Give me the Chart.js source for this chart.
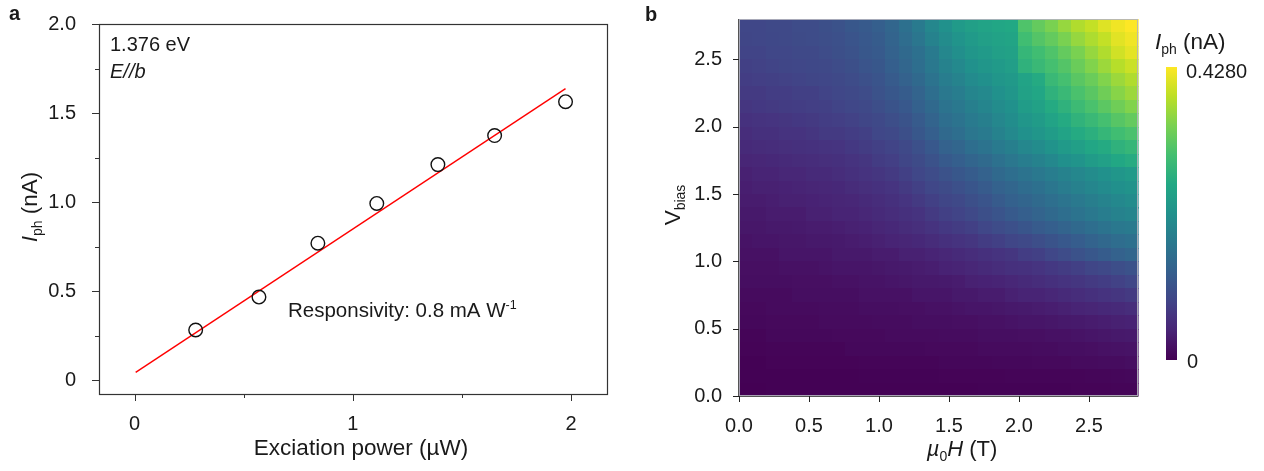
<!DOCTYPE html>
<html>
<head>
<meta charset="utf-8">
<script src="https://cdn.jsdelivr.net/npm/chart.js@4.4.1/dist/chart.umd.min.js"></script>
<style>
    html, body { margin: 0; padding: 0; background: #fff; }
    #wrap { position: relative; width: 1264px; height: 471px; overflow: hidden; }
    canvas { position: absolute; top: 0; }
    #powerChart { left: 0; }
    #mapChart { left: 640px; }
</style>
</head>
<body>
<div id="wrap">
    <canvas id="powerChart" width="640" height="471"></canvas>
    <canvas id="mapChart" width="624" height="471"></canvas>
</div>
<script>
'use strict';

// --- Panel a: photocurrent vs excitation power ---
const powerUW = [0.28, 0.57, 0.84, 1.11, 1.39, 1.65, 1.975];
const iphNA = [0.283, 0.468, 0.770, 0.993, 1.211, 1.374, 1.564];
const fitPowerUW = [0.005, 1.975];
const fitIphNA = [0.045, 1.637];
const powerTicks = [0, 1, 2];
const powerMinorTicks = [0.5, 1.5];
const iphTicks = [0, 0.5, 1.0, 1.5, 2.0];
const iphMinorTicks = [0.25, 0.75, 1.25, 1.75];

// --- Panel b: photocurrent map (field x bias), values in pA ---
const fieldT = [0.0475, 0.1425, 0.2375, 0.3325, 0.4275, 0.5225, 0.6175, 0.7125, 0.8075, 0.9025,
    0.9975, 1.0925, 1.1875, 1.2825, 1.3775, 1.4725, 1.5675, 1.6625, 1.7575, 1.8525,
    1.9475, 2.0425, 2.1375, 2.2325, 2.3275, 2.4225, 2.5175, 2.6125, 2.7075, 2.8025];
// rows listed from top (2.75 V) to bottom (0.05 V)
const biasV = [2.75, 2.65, 2.55, 2.45, 2.35, 2.25, 2.15, 2.05, 1.95, 1.85, 1.75, 1.65, 1.55, 1.45,
    1.35, 1.25, 1.15, 1.05, 0.95, 0.85, 0.75, 0.65, 0.55, 0.45, 0.35, 0.25, 0.15, 0.05];
const iphMapPA = [
    [90, 90, 94, 94, 98, 98, 103, 107, 116, 120, 128, 141, 158, 175, 197, 214, 231, 240, 248, 253, 257, 308, 325, 342, 360, 377, 389, 407, 419, 428],
    [88, 90, 92, 94, 96, 98, 101, 105, 111, 118, 124, 137, 152, 167, 188, 205, 220, 231, 240, 246, 250, 295, 312, 325, 342, 360, 375, 389, 409, 419],
    [86, 86, 90, 90, 94, 94, 98, 103, 107, 116, 120, 133, 146, 158, 175, 197, 210, 223, 231, 240, 244, 282, 295, 308, 325, 342, 360, 377, 398, 411],
    [81, 83, 86, 88, 90, 92, 94, 98, 103, 111, 116, 128, 141, 154, 171, 188, 201, 214, 223, 231, 238, 274, 287, 300, 312, 330, 347, 364, 381, 394],
    [77, 79, 81, 83, 86, 88, 90, 94, 98, 105, 111, 122, 133, 146, 163, 180, 190, 203, 212, 223, 229, 248, 261, 287, 300, 317, 330, 347, 364, 377],
    [73, 73, 77, 77, 81, 81, 86, 90, 94, 98, 107, 116, 124, 137, 154, 171, 180, 193, 201, 214, 223, 244, 253, 274, 287, 304, 317, 334, 351, 364],
    [68, 71, 73, 75, 77, 79, 81, 86, 90, 94, 101, 109, 118, 131, 146, 163, 171, 184, 193, 205, 214, 235, 244, 261, 274, 291, 304, 319, 334, 347],
    [62, 64, 66, 68, 71, 73, 77, 79, 83, 88, 94, 101, 109, 122, 137, 154, 163, 175, 184, 197, 208, 223, 233, 248, 261, 276, 287, 300, 315, 325],
    [56, 60, 60, 64, 64, 68, 73, 73, 77, 81, 90, 94, 103, 116, 128, 146, 154, 167, 175, 188, 201, 214, 223, 235, 248, 261, 270, 282, 295, 304],
    [51, 54, 56, 58, 60, 62, 64, 66, 71, 75, 81, 86, 94, 105, 118, 133, 141, 154, 163, 175, 184, 197, 205, 218, 231, 240, 253, 261, 274, 282],
    [45, 47, 49, 51, 54, 56, 58, 60, 64, 68, 75, 79, 88, 96, 107, 120, 128, 139, 148, 160, 169, 180, 188, 199, 212, 220, 233, 242, 255, 263],
    [39, 43, 43, 47, 47, 51, 51, 56, 60, 64, 68, 73, 81, 90, 98, 107, 116, 124, 133, 146, 154, 163, 171, 180, 188, 197, 205, 214, 223, 231],
    [36, 39, 39, 41, 43, 45, 47, 49, 54, 58, 62, 66, 73, 81, 90, 96, 105, 113, 122, 133, 141, 150, 158, 167, 178, 186, 195, 203, 212, 218],
    [34, 34, 36, 39, 39, 41, 43, 45, 47, 51, 56, 60, 66, 73, 81, 88, 94, 103, 111, 122, 131, 139, 148, 156, 165, 173, 182, 190, 199, 205],
    [30, 30, 34, 34, 34, 39, 39, 43, 43, 47, 51, 56, 60, 64, 73, 81, 86, 94, 103, 111, 120, 128, 137, 146, 154, 163, 171, 180, 188, 193],
    [28, 28, 30, 30, 32, 34, 34, 36, 39, 41, 45, 49, 54, 58, 64, 71, 75, 81, 90, 98, 105, 113, 122, 128, 137, 146, 154, 163, 171, 175],
    [24, 26, 26, 28, 28, 30, 30, 32, 34, 36, 39, 43, 45, 49, 54, 60, 64, 68, 75, 81, 88, 94, 101, 109, 118, 126, 135, 143, 152, 158],
    [21, 21, 21, 26, 26, 26, 26, 30, 30, 30, 34, 34, 39, 39, 43, 47, 51, 56, 60, 64, 68, 77, 81, 90, 98, 107, 116, 124, 133, 141],
    [19, 19, 19, 21, 21, 21, 24, 26, 26, 26, 28, 30, 32, 34, 36, 41, 43, 47, 51, 56, 60, 62, 66, 71, 76, 81, 88, 94, 101, 107],
    [17, 17, 17, 17, 19, 19, 19, 21, 21, 24, 24, 26, 28, 30, 30, 32, 34, 39, 41, 43, 47, 51, 56, 60, 64, 68, 73, 77, 83, 90],
    [13, 13, 13, 13, 17, 17, 17, 17, 17, 21, 21, 21, 21, 26, 26, 26, 30, 30, 34, 34, 39, 43, 43, 47, 51, 56, 60, 64, 68, 73],
    [11, 11, 13, 13, 13, 13, 15, 15, 15, 17, 17, 17, 19, 19, 21, 21, 24, 26, 26, 28, 30, 32, 34, 36, 39, 43, 45, 49, 51, 56],
    [9, 9, 11, 11, 11, 11, 13, 13, 13, 13, 15, 15, 15, 17, 17, 17, 19, 19, 21, 21, 24, 26, 26, 28, 30, 32, 34, 36, 39, 41],
    [6, 6, 9, 9, 9, 9, 9, 11, 11, 11, 11, 13, 13, 13, 13, 15, 15, 15, 17, 17, 17, 19, 19, 21, 21, 24, 26, 28, 30, 32],
    [4, 4, 6, 6, 6, 6, 6, 6, 9, 9, 9, 9, 9, 9, 11, 11, 11, 11, 13, 13, 13, 13, 15, 15, 17, 17, 19, 21, 23, 24],
    [2, 2, 4, 4, 4, 4, 4, 4, 4, 6, 6, 6, 6, 6, 6, 8, 8, 8, 8, 9, 9, 9, 11, 11, 11, 13, 13, 15, 15, 17],
    [1, 1, 2, 2, 2, 2, 2, 2, 2, 3, 3, 3, 3, 3, 3, 4, 4, 4, 4, 4, 5, 5, 5, 6, 6, 6, 7, 7, 8, 9],
    [0, 0, 1, 1, 1, 1, 1, 1, 1, 2, 2, 2, 2, 2, 2, 2, 2, 2, 3, 3, 3, 3, 3, 3, 3, 4, 4, 4, 5, 5]
];
const iphMaxNA = 0.428;
const fieldTicks = [0, 0.5, 1.0, 1.5, 2.0, 2.5];
const biasTicks = [0, 0.5, 1.0, 1.5, 2.0, 2.5];

// --- shared style bits ---
const FONT = '"Liberation Sans", Arial, Helvetica, sans-serif';
const INK = '#1a1a1a';
const VIRIDIS = [
    [0.00, [68, 1, 84]], [0.05, [71, 17, 100]], [0.10, [72, 36, 117]], [0.15, [70, 51, 127]],
    [0.20, [65, 68, 135]], [0.30, [53, 95, 141]], [0.40, [42, 120, 142]], [0.50, [33, 145, 140]],
    [0.60, [34, 168, 132]], [0.70, [68, 191, 112]], [0.80, [122, 209, 81]], [0.90, [189, 223, 38]],
    [1.00, [253, 231, 37]]
];

Chart.defaults.font.family = FONT;
Chart.defaults.font.size = 20;
Chart.defaults.color = INK;

function viridis(t) {
    t = Math.max(0, Math.min(1, t));
    for (let i = 1; i < VIRIDIS.length; i++) {
        const [t1, c1] = VIRIDIS[i];
        if (t <= t1) {
            const [t0, c0] = VIRIDIS[i - 1];
            const f = (t - t0) / (t1 - t0);
            const c = c0.map((v, k) => Math.round(v + (c1[k] - v) * f));
            return `rgb(${c[0]},${c[1]},${c[2]})`;
        }
    }
    return 'rgb(253,231,37)';
}

// draws a run of text pieces (italic / sub / sup) starting from x, or centred on x
function drawRich(ctx, x, y, parts, align) {
    const fontOf = p => `${p.italic ? 'italic ' : ''}${p.bold ? 'bold ' : ''}${p.size}px ${FONT}`;
    let total = 0;
    parts.forEach(p => { ctx.font = fontOf(p); total += ctx.measureText(p.t).width; });
    let cx = align === 'center' ? x - total / 2 : x;
    ctx.textBaseline = 'alphabetic';
    ctx.textAlign = 'left';
    parts.forEach(p => {
        ctx.font = fontOf(p);
        ctx.fillText(p.t, cx, y + (p.dy || 0));
        cx += ctx.measureText(p.t).width;
    });
}

function drawTicks(ctx, scale, values, len) {
    const area = scale.chart.chartArea;
    ctx.beginPath();
    values.forEach(v => {
        const p = Math.round(scale.getPixelForValue(v)) + 0.5;
        if (scale.isHorizontal()) {
            ctx.moveTo(p, area.bottom);
            ctx.lineTo(p, area.bottom + len);
        } else {
            ctx.moveTo(area.left, p);
            ctx.lineTo(area.left - len, p);
        }
    });
    ctx.stroke();
}

const fixedTicks = list => scale => { scale.ticks = list.map(v => ({ value: v })); };
// pin the scale boxes so the plot area lands where the figure has it
const fitX = h => s => { s.height = h; s.paddingLeft = 0; s.paddingRight = 0; };
const fitY = w => s => { s.width = w; s.paddingTop = 0; s.paddingBottom = 0; };

// --- Panel a ---
const panelAPlugin = {
    id: 'panelA',
    afterDraw(chart) {
        const { ctx, chartArea: a, scales } = chart;
        ctx.save();
        ctx.strokeStyle = '#333';
        ctx.lineWidth = 1.2;
        ctx.strokeRect(Math.round(a.left) + 0.5, Math.round(a.top) + 0.5,
            Math.round(a.right - a.left), Math.round(a.bottom - a.top));
        ctx.lineWidth = 1;
        drawTicks(ctx, scales.x, powerTicks, 7);
        drawTicks(ctx, scales.x, powerMinorTicks, 4);
        drawTicks(ctx, scales.y, iphTicks, 7);
        drawTicks(ctx, scales.y, iphMinorTicks, 4);

        ctx.fillStyle = INK;
        drawRich(ctx, 9, 20, [{ t: 'a', size: 20, bold: true }]);
        drawRich(ctx, 110, 51, [{ t: '1.376 eV', size: 20 }]);
        drawRich(ctx, 110, 78, [{ t: 'E//b', size: 20, italic: true }]);
        drawRich(ctx, 288, 317, [
            { t: 'Responsivity: 0.8 mA W', size: 20.5 },
            { t: '-1', size: 12.5, dy: -8 }
        ]);
        drawRich(ctx, 361, 455, [{ t: 'Exciation power (\u00b5W)', size: 22.5 }], 'center');

        ctx.translate(37, 207);
        ctx.rotate(-Math.PI / 2);
        drawRich(ctx, 0, 0, [
            { t: 'I', size: 22.5, italic: true },
            { t: 'ph', size: 14, dy: 5 },
            { t: ' (nA)', size: 22.5 }
        ], 'center');
        ctx.restore();
    }
};

new Chart(document.getElementById('powerChart'), {
    type: 'scatter',
    data: {
        datasets: [
            {
                type: 'line',
                data: fitPowerUW.map((x, i) => ({ x, y: fitIphNA[i] })),
                borderColor: '#ff0000',
                borderWidth: 1.4,
                pointRadius: 0,
                order: 2
            },
            {
                data: powerUW.map((x, i) => ({ x, y: iphNA[i] })),
                pointStyle: 'circle',
                pointRadius: 6.8,
                borderWidth: 1.4,
                borderColor: '#111',
                backgroundColor: 'rgba(0,0,0,0)',
                order: 1
            }
        ]
    },
    options: {
        responsive: false,
        animation: false,
        events: [],
        layout: { padding: { left: 0, top: 24, right: 33, bottom: 0 } },
        plugins: { legend: { display: false }, tooltip: { enabled: false } },
        scales: {
            x: {
                type: 'linear', min: -0.163, max: 2.165,
                afterBuildTicks: fixedTicks(powerTicks),
                afterFit: fitX(77),
                grid: { display: false },
                border: { display: false },
                ticks: { padding: 10, callback: v => String(v) }
            },
            y: {
                type: 'linear', min: -0.076, max: 2.0,
                afterBuildTicks: fixedTicks(iphTicks),
                afterFit: fitY(99),
                grid: { display: false },
                border: { display: false },
                ticks: { padding: 15, callback: v => (v === 0 ? '0' : v.toFixed(1)) }
            }
        }
    },
    plugins: [panelAPlugin]
});

// --- Panel b ---
const CBAR = { x: 526, w: 11, top: 67, bottom: 360 };

const panelBPlugin = {
    id: 'panelB',
    beforeDatasetsDraw(chart) {
        const { ctx, scales: { x, y } } = chart;
        const hx = (fieldT[1] - fieldT[0]) / 2;
        const hy = (biasV[0] - biasV[1]) / 2;
        ctx.save();
        iphMapPA.forEach((row, r) => {
            const y0 = Math.round(y.getPixelForValue(biasV[r] + hy));
            const y1 = Math.round(y.getPixelForValue(biasV[r] - hy));
            row.forEach((pa, c) => {
                const x0 = Math.round(x.getPixelForValue(fieldT[c] - hx));
                const x1 = Math.round(x.getPixelForValue(fieldT[c] + hx));
                ctx.fillStyle = viridis(pa / 1000 / iphMaxNA);
                ctx.fillRect(x0, y0, x1 - x0 + 0.6, y1 - y0 + 0.6);
            });
        });
        ctx.restore();
    },
    afterDraw(chart) {
        const { ctx, chartArea: a, scales } = chart;
        ctx.save();
        // thin edge round the map, then axes and ticks
        ctx.strokeStyle = 'rgba(180,180,190,0.9)';
        ctx.lineWidth = 1;
        ctx.strokeRect(Math.round(a.left) + 0.5, Math.round(a.top) + 0.5,
            Math.round(a.right - a.left) - 1, Math.round(a.bottom - a.top) - 1);
        ctx.strokeStyle = '#555';
        ctx.beginPath();
        ctx.moveTo(Math.round(a.left) - 0.5, a.top);
        ctx.lineTo(Math.round(a.left) - 0.5, a.bottom + 0.5);
        ctx.lineTo(a.right, Math.round(a.bottom) + 0.5);
        ctx.stroke();
        ctx.strokeStyle = '#222';
        drawTicks(ctx, scales.x, fieldTicks, 6);
        drawTicks(ctx, scales.y, biasTicks, 6);

        // colour bar
        const g = ctx.createLinearGradient(0, CBAR.bottom, 0, CBAR.top);
        VIRIDIS.forEach(([t, c]) => g.addColorStop(t, `rgb(${c[0]},${c[1]},${c[2]})`));
        ctx.fillStyle = g;
        ctx.fillRect(CBAR.x, CBAR.top, CBAR.w, CBAR.bottom - CBAR.top);

        ctx.fillStyle = INK;
        drawRich(ctx, CBAR.x + 20, CBAR.top + 11, [{ t: iphMaxNA.toFixed(4), size: 20 }]);
        drawRich(ctx, CBAR.x + 21, CBAR.bottom + 8, [{ t: '0', size: 20 }]);
        drawRich(ctx, 515, 49, [
            { t: 'I', size: 22.5, italic: true },
            { t: 'ph', size: 14, dy: 5 },
            { t: ' (nA)', size: 22.5 }
        ]);
        drawRich(ctx, 5, 21, [{ t: 'b', size: 20, bold: true }]);
        drawRich(ctx, 322, 456, [
            { t: '\u00b5', size: 22, italic: true },
            { t: '0', size: 14, dy: 5 },
            { t: 'H', size: 22, italic: true },
            { t: ' (T)', size: 22 }
        ], 'center');

        ctx.translate(40, 205);
        ctx.rotate(-Math.PI / 2);
        drawRich(ctx, 0, 0, [
            { t: 'V', size: 22.5 },
            { t: 'bias', size: 14, dy: 5 }
        ], 'center');
        ctx.restore();
    }
};

new Chart(document.getElementById('mapChart'), {
    type: 'scatter',
    data: { datasets: [{ data: [], pointRadius: 0 }] },
    options: {
        responsive: false,
        animation: false,
        events: [],
        layout: { padding: { left: 0, top: 19, right: 126, bottom: 0 } },
        plugins: { legend: { display: false }, tooltip: { enabled: false } },
        scales: {
            x: {
                type: 'linear', min: 0, max: 2.85,
                afterBuildTicks: fixedTicks(fieldTicks),
                afterFit: fitX(75),
                grid: { display: false },
                border: { display: false },
                ticks: { padding: 10, callback: v => v.toFixed(1) }
            },
            y: {
                type: 'linear', min: 0, max: 2.8,
                afterBuildTicks: fixedTicks(biasTicks),
                afterFit: fitY(99),
                grid: { display: false },
                border: { display: false },
                ticks: { padding: 9, callback: v => v.toFixed(1) }
            }
        }
    },
    plugins: [panelBPlugin]
});
</script>
</body>
</html>
